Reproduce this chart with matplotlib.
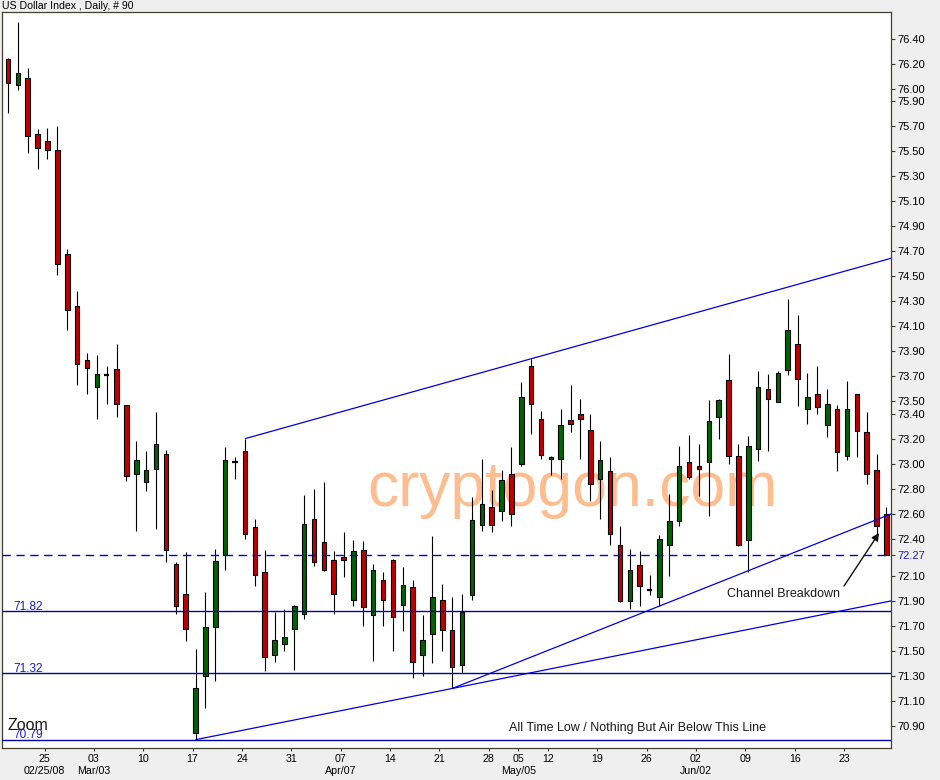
import matplotlib
matplotlib.use('Agg')
import matplotlib.pyplot as plt
import matplotlib.transforms as mtransforms
from matplotlib.patches import Rectangle
import numpy as np
import pandas as pd

plt.rcParams['font.family'] = ['Liberation Sans', 'DejaVu Sans']

# ---------------- data ----------------
opens = [76.24, 76.03, 76.09, 75.64, 75.58, 75.51, 74.68, 74.26, 73.83, 73.61,
         73.71, 73.76, 73.47, 72.92, 72.85, 72.96, 73.08, 72.20, 71.96, 70.84,
         71.30, 71.69, 72.27, 73.01, 73.10, 72.49, 72.13, 71.47, 71.56, 71.68,
         71.80, 72.56, 72.37, 72.23, 72.25, 71.91, 72.31, 71.79, 72.07, 72.23,
         71.87, 72.01, 71.47, 71.64, 71.91, 71.67, 71.39, 71.95, 72.51, 72.65,
         72.62, 72.92, 73.00, 73.78, 73.36, 73.04, 73.04, 73.35, 73.40, 73.27,
         72.88, 72.94, 72.35, 71.90, 72.19, 71.99, 71.93, 72.35, 72.54, 73.01,
         72.98, 73.01, 73.37, 73.67, 73.06, 72.39, 73.12, 73.60, 73.49, 73.75,
         73.96, 73.44, 73.56, 73.31, 73.44, 73.06, 73.56, 73.25, 72.95, 72.60]
highs = [76.25, 76.54, 76.17, 75.68, 75.69, 75.70, 74.72, 74.38, 73.89, 73.87,
         73.78, 73.96, 73.47, 73.18, 73.10, 73.41, 73.11, 72.21, 72.29, 71.52,
         71.97, 72.32, 73.13, 73.05, 73.20, 72.56, 72.31, 71.81, 71.84, 71.87,
         72.75, 72.80, 72.85, 72.30, 72.45, 72.39, 72.38, 72.20, 72.13, 72.24,
         72.17, 72.07, 71.79, 72.42, 72.04, 71.93, 71.96, 72.73, 73.04, 72.79,
         72.95, 73.13, 73.65, 73.84, 73.42, 73.06, 73.44, 73.63, 73.52, 73.40,
         73.18, 73.05, 72.50, 72.32, 72.30, 72.11, 72.43, 72.76, 73.14, 73.23,
         73.16, 73.51, 73.52, 73.88, 73.16, 73.22, 73.74, 73.72, 73.74, 74.32,
         74.19, 73.73, 73.78, 73.60, 73.47, 73.66, 73.56, 73.41, 73.08, 72.65]
lows = [75.81, 75.99, 75.49, 75.36, 75.44, 74.51, 74.07, 73.63, 73.56, 73.36,
        73.48, 73.37, 72.86, 72.46, 72.78, 72.48, 72.21, 71.80, 71.58, 70.79,
        71.04, 71.26, 72.15, 72.88, 72.40, 72.02, 71.34, 71.41, 71.50, 71.35,
        71.76, 72.18, 72.14, 71.80, 72.09, 71.86, 71.70, 71.42, 71.70, 71.50,
        71.66, 71.28, 71.30, 71.40, 71.50, 71.20, 71.32, 71.91, 72.46, 72.45,
        72.54, 72.50, 72.98, 73.24, 73.04, 72.91, 72.88, 73.25, 73.04, 72.70,
        72.56, 72.35, 71.89, 71.84, 71.86, 71.95, 71.86, 72.10, 72.50, 72.88,
        72.74, 72.58, 73.20, 73.00, 72.34, 72.13, 73.02, 73.10, 73.49, 73.71,
        73.46, 73.32, 73.40, 73.21, 72.94, 73.03, 73.05, 72.84, 72.44, 72.27]
closes = [76.05, 76.13, 75.62, 75.53, 75.51, 74.60, 74.23, 73.80, 73.77, 73.72,
          73.71, 73.48, 72.90, 73.03, 72.95, 73.16, 72.31, 71.86, 71.68, 71.20,
          71.69, 72.22, 73.03, 73.01, 72.44, 72.11, 71.45, 71.59, 71.61, 71.86,
          72.52, 72.21, 72.15, 71.96, 72.23, 72.30, 71.85, 72.15, 71.91, 71.77,
          72.03, 71.41, 71.59, 71.93, 71.67, 71.37, 71.81, 72.55, 72.68, 72.51,
          72.87, 72.60, 73.53, 73.48, 73.07, 73.05, 73.31, 73.32, 73.36, 72.84,
          73.03, 72.44, 71.90, 72.15, 72.02, 71.99, 72.40, 72.54, 72.98, 72.89,
          72.96, 73.34, 73.51, 73.06, 72.35, 73.14, 73.61, 73.52, 73.73, 74.07,
          73.68, 73.53, 73.45, 73.48, 73.09, 73.44, 73.26, 72.92, 72.50, 72.27]

# trading days shown (feed misses a few early-May sessions)
all_days = pd.bdate_range('2008-02-19', '2008-06-27')
missing_days = pd.to_datetime(['2008-05-01', '2008-05-02', '2008-05-08', '2008-05-09'])
dates = all_days.difference(missing_days)

support_levels = [71.82, 71.32, 70.79]
support_labels = ['71.82', '71.32', '70.79']
last_level = 72.27
right_ticks = [76.40, 76.20, 76.00, 75.90, 75.70, 75.50, 75.30, 75.10, 74.90, 74.70,
               74.50, 74.30, 74.10, 73.90, 73.70, 73.50, 73.40, 73.20, 73.00, 72.80,
               72.60, 72.40, 72.27, 72.10, 71.90, 71.70, 71.50, 71.30, 71.10, 70.90]

title = 'US Dollar Index , Daily, # 90'
watermark = 'cryptogon.com'
note_breakdown = 'Channel Breakdown'
note_low = 'All Time Low / Nothing But Air Below This Line'

# trend line anchors (bar indices of touched highs / lows)
upper_anchor = (24, 53)
lower_steep_anchor = (45, 66)
lower_flat_anchor = (19, 45)

# ---------------- figure ----------------
W, H = 940, 780
fig = plt.figure(figsize=(W / 100, H / 100), dpi=100, facecolor='#EFEFEF')
ax_l, ax_r, ax_t, ax_b = 1.7, 891.0, 11.7, 748.3
ax = fig.add_axes([ax_l / W, 1 - ax_b / H, (ax_r - ax_l) / W, (ax_b - ax_t) / H])
ax.set_facecolor('white')

n = len(closes)
x = np.arange(n)
XMIN, XMAX = -0.64, 89.46
YMIN, YMAX = 70.721, 76.619
ax.set_xlim(XMIN, XMAX)
ax.set_ylim(YMIN, YMAX)

red = '#C00000'
green = '#006400'
bw = 0.46
for i in range(n):
    o, h, l, c = opens[i], highs[i], lows[i], closes[i]
    ax.vlines(i, l, h, color='black', lw=0.8, zorder=3)
    if abs(c - o) < 1e-9:
        ax.hlines(o, i - 0.28, i + 0.28, color='black', lw=1.6, zorder=4)
    else:
        col = green if c > o else red
        ax.add_patch(Rectangle((i - bw / 2, min(o, c)), bw, abs(c - o),
                               facecolor=col, edgecolor='black', lw=0.8, zorder=4))

# watermark
ax.text(57.19, 72.663, watermark, fontsize=45, color='#FFBD8F', ha='center',
        va='baseline', zorder=1)

# horizontal levels
line_blue = '#0000A8'
trend_blue = '#0000E6'
for lev, lab in zip(support_levels, support_labels):
    ax.axhline(lev, color=line_blue, lw=1.0, zorder=5)
    ax.text(0.0127, lev + 0.012, lab, transform=mtransforms.blended_transform_factory(ax.transAxes, ax.transData),
            fontsize=8.5, color='#1818D8', ha='left', va='baseline', zorder=6)
ax.axhline(last_level, color=trend_blue, lw=1.0, ls=(0, (6, 4)), zorder=5)

# trend lines
def trend(a, b, vals, start):
    slope = (vals[b] - vals[a]) / (b - a)
    xs = np.array([start, XMAX])
    return xs, vals[a] + slope * (xs - a)

for (a, b), vals, start in [(upper_anchor, highs, upper_anchor[0]),
                            (lower_steep_anchor, lows, lower_steep_anchor[0]),
                            (lower_flat_anchor, lows, lower_flat_anchor[0])]:
    xs, ys = trend(a, b, vals, start)
    ax.plot(xs, ys, color=trend_blue, lw=0.9, zorder=5, solid_capstyle='butt')

# annotations
ax.annotate('', xy=(88.25, 72.445), xytext=(84.7, 72.02),
            arrowprops=dict(arrowstyle='-|>', color='#111111', lw=1.0,
                            mutation_scale=11, shrinkA=0, shrinkB=0), zorder=7)
ax.text(78.57, 71.935, note_breakdown, fontsize=9, color='#1A1A1A',
        ha='center', va='baseline', zorder=7)
ax.text(63.8, 70.856, note_low, fontsize=9, color='#1A1A1A',
        ha='center', va='baseline', zorder=7)
ax.text(0.006, 70.868, 'Zoom', transform=mtransforms.blended_transform_factory(ax.transAxes, ax.transData),
        fontsize=11.5, color='#1A1A1A', ha='left', va='baseline', zorder=7)

# y axis on right
ax.yaxis.tick_right()
ax.set_yticks(right_ticks)
ax.set_yticklabels(['%.2f' % t for t in right_ticks])
ax.tick_params(axis='y', direction='out', length=3.2, width=0.8, pad=1.2,
               labelsize=8, colors='#3C3C30', labelcolor='black')
for lbl, t in zip(ax.get_yticklabels(), right_ticks):
    if abs(t - last_level) < 1e-9:
        lbl.set_color('#1818D8')

# x axis: week starts
tick_pos, tick_lab = [], []
prev_month = None
for i in range(1, n):
    if dates[i].weekday() < dates[i - 1].weekday():
        d = dates[i]
        lab = d.strftime('%d')
        if prev_month is None:
            lab += '\n' + d.strftime('%m/%d/%y')
        elif d.month != prev_month:
            lab += '\n' + d.strftime('%b/%d')
        prev_month = d.month
        tick_pos.append(i - 0.3)
        tick_lab.append(lab)
ax.set_xticks(tick_pos)
ax.set_xticklabels(tick_lab, linespacing=1.25, va='top')
ax.tick_params(axis='x', direction='out', length=2.5, width=0.8, pad=1.5,
               labelsize=7.7, colors='#3C3C30', labelcolor='black')

for sp in ax.spines.values():
    sp.set_color('#404030')
    sp.set_linewidth(0.9)

fig.text(2 / W, 1 - 6.3 / H, title, fontsize=7.6, color='black', ha='left', va='center')

fig.savefig('out.png', dpi=100, facecolor=fig.get_facecolor())
